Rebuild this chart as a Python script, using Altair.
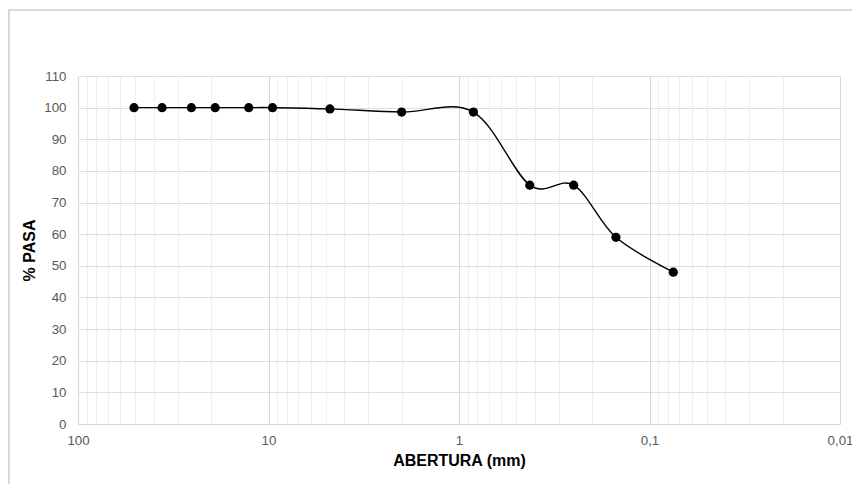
import altair as alt
import pandas as pd

abertura = [50.8, 36.2, 25.4, 19.05, 12.7, 9.525, 4.76, 2.0, 0.84, 0.425, 0.25, 0.15, 0.075]
pasa = [100, 100, 100, 100, 100, 100, 99.6, 98.6, 98.6, 75.5, 75.5, 59.0, 48.0]

x_ticks = [d * m for d in [0.01, 0.1, 1, 10] for m in range(1, 10)] + [100]
y_ticks = [0, 10, 20, 30, 40, 50, 60, 70, 80, 90, 100, 110]

df = pd.DataFrame({"abertura": abertura, "pasa": pasa})

W, H = 762, 348
PAD_L, PAD_T = 70, 68

decade_test = "abs(log(datum.value)/LN10 - round(log(datum.value)/LN10)) < 0.000001"

x_enc = alt.X(
    "abertura:Q",
    scale=alt.Scale(type="log", domain=[0.01, 100], reverse=True, nice=False),
    axis=alt.Axis(
        values=x_ticks,
        labelExpr=f"({decade_test}) ? (datum.value >= 1 ? format(datum.value, 'd') : replace(toString(datum.value), '.', ',')) : ''",
        grid=True,
        gridColor={"condition": {"test": decade_test, "value": "#d6d6d6"}, "value": "#efefef"},
        gridWidth=1,
        ticks=False,
        domain=True,
        domainColor="#d6d6d6",
        labelFont="Liberation Sans",
        labelFontSize=13.3,
        labelColor="#595959",
        labelPadding=9,
        labelFlush=False,
        labelOverlap=False,
        title="ABERTURA (mm)",
        titleFont="Liberation Sans",
        titleFontSize=16,
        titleFontWeight="bold",
        titleColor="#000000",
        titlePadding=6,
    ),
)

y_enc = alt.Y(
    "pasa:Q",
    scale=alt.Scale(domain=[0, 110], nice=False, zero=True),
    axis=alt.Axis(
        values=y_ticks,
        grid=True,
        gridColor="#dedede",
        ticks=False,
        domain=False,
        labelOverlap=False,
        labelFont="Liberation Sans",
        labelFontSize=13.3,
        labelColor="#595959",
        labelPadding=12,
        title="% PASA",
        titleFont="Liberation Sans",
        titleFontSize=16,
        titleFontWeight="bold",
        titleColor="#000000",
        titlePadding=6,
    ),
)

line = alt.Chart(df).mark_line(
    color="#000000", strokeWidth=1.4, interpolate="cardinal"
).encode(x=x_enc, y=y_enc)

pts = alt.Chart(df).mark_circle(
    color="#000000", size=85, opacity=1
).encode(x=x_enc, y=y_enc)

border_left = alt.Chart(df).mark_rule(color="#d9d9d9", strokeWidth=2).encode(
    x=alt.value(-PAD_L + 1), y=alt.value(-PAD_T + 1.5), y2=alt.value(H + 200)
)
border_top = alt.Chart(df).mark_rule(color="#d9d9d9", strokeWidth=2).encode(
    x=alt.value(-PAD_L + 0), x2=alt.value(W + 200), y=alt.value(-PAD_T + 2)
)

chart = alt.layer(line, pts, border_left, border_top).properties(
    width=W, height=H,
    padding={"left": PAD_L, "top": PAD_T, "right": 12, "bottom": 60},
    autosize=alt.AutoSizeParams(type="none"),
    background="#ffffff",
).configure_view(stroke=None)

chart.save("out.html", embed_options={"renderer": "svg", "actions": False})
